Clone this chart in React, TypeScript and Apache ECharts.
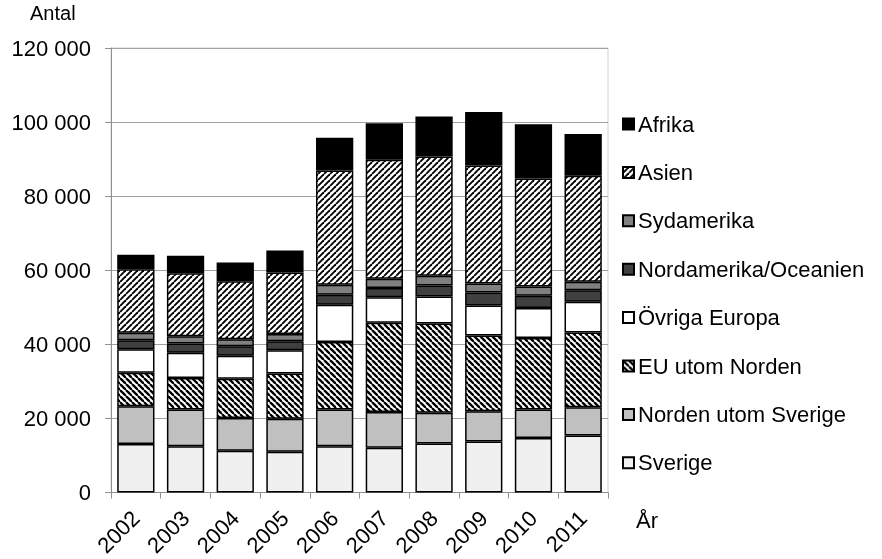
import React, { useEffect, useRef } from "react";
import * as echarts from "echarts";

const years = ["2002", "2003", "2004", "2005", "2006", "2007", "2008", "2009", "2010", "2011"];
const sverige = [13100, 12500, 11300, 11000, 12500, 12100, 13200, 13800, 14700, 15400];
const nordenUtomSverige = [10200, 9900, 8800, 8900, 9900, 9600, 8300, 8100, 7700, 7600];
const euUtomNorden = [9000, 8500, 10600, 12200, 18200, 24100, 24100, 20500, 19300, 20200];
const ovrigaEuropa = [6400, 6800, 6200, 6300, 10100, 6900, 7300, 8100, 8100, 8300];
const nordamerikaOceanien = [2400, 2500, 2600, 2400, 2700, 2500, 3000, 3500, 3300, 3100];
const sydamerika = [2000, 2000, 1900, 2000, 2700, 2500, 2600, 2400, 2500, 2300];
const asien = [17200, 17000, 15600, 16600, 30800, 32100, 32200, 31900, 29200, 28600];
const afrika = [3900, 4700, 5100, 5900, 8900, 9900, 10800, 14400, 14600, 11300];
const yTicks = [0, 20000, 40000, 60000, 80000, 100000, 120000];

const FONT = "'Liberation Sans', Arial, sans-serif";
const FS = 22;

function hatch(dir: number, lw: number) {
  const s = 6;
  const c = document.createElement("canvas");
  c.width = s;
  c.height = s;
  const ctx = c.getContext("2d")!;
  ctx.fillStyle = "#fff";
  ctx.fillRect(0, 0, s, s);
  ctx.strokeStyle = "#000";
  ctx.lineWidth = lw;
  for (let k = -1; k <= 1; k++) {
    ctx.beginPath();
    if (dir > 0) {
      ctx.moveTo(k * s, s);
      ctx.lineTo(k * s + s, 0);
    } else {
      ctx.moveTo(k * s, 0);
      ctx.lineTo(k * s + s, s);
    }
    ctx.stroke();
  }
  return { image: c, repeat: "repeat", imageWidth: s, imageHeight: s } as any;
}

export default function App() {
  const ref = useRef<HTMLDivElement>(null);
  useEffect(() => {
    const chart = echarts.init(ref.current!, null, { renderer: "svg" });
    const fmt = (v: number) => String(v).replace(/\B(?=(\d{3})+(?!\d))/g, " ");
    const seriesDefs: [string, number[], any][] = [
      ["Sverige", sverige, "#f0f0f0"],
      ["Norden utom Sverige", nordenUtomSverige, "#c0c0c0"],
      ["EU utom Norden", euUtomNorden, hatch(-1, 2.3)],
      ["Övriga Europa", ovrigaEuropa, "#ffffff"],
      ["Nordamerika/Oceanien", nordamerikaOceanien, "#404040"],
      ["Sydamerika", sydamerika, "#808080"],
      ["Asien", asien, hatch(1, 1.9)],
      ["Afrika", afrika, "#000000"],
    ];
    chart.setOption({
      animation: false,
      grid: { left: 111, right: 274, top: 48, bottom: 66, show: true, borderColor: "#d0d0d0", borderWidth: 1 },
      legend: {
        orient: "vertical",
        left: 622,
        top: 113,
        padding: 0,
        itemWidth: 11,
        itemHeight: 11,
        itemGap: 26.4,
        icon: "rect",
        data: seriesDefs.map((d) => d[0]).reverse(),
        textStyle: { fontSize: FS, color: "#000", fontFamily: FONT, padding: [0, 0, 0, -1] },
      },
      xAxis: {
        type: "category",
        data: years,
        axisLine: { lineStyle: { color: "#909090", width: 1 } },
        axisTick: { show: true, length: 6, lineStyle: { color: "#909090" } },
        axisLabel: { rotate: 45, fontSize: FS, color: "#000", fontFamily: FONT, margin: 22 },
      },
      yAxis: {
        type: "value",
        min: yTicks[0],
        max: yTicks[yTicks.length - 1],
        interval: 20000,
        axisLine: { show: true, lineStyle: { color: "#909090", width: 1 } },
        axisTick: { show: true, length: 6, lineStyle: { color: "#909090" } },
        splitLine: { lineStyle: { color: "#a0a0a0", width: 1 } },
        axisLabel: { fontSize: FS, color: "#000", fontFamily: FONT, margin: 20, formatter: fmt },
      },
      graphic: [
        { type: "text", left: 30, top: 3, style: { text: "Antal", fontSize: FS - 2, fill: "#000", fontFamily: FONT } },
        { type: "text", left: 636, top: 509, style: { text: "År", fontSize: FS, fill: "#000", fontFamily: FONT } },
      ],
      series: seriesDefs.map(([name, data, color]) => ({
        name,
        type: "bar",
        stack: "total",
        data,
        barCategoryGap: "25%",
        itemStyle: { color, borderColor: "#000", borderWidth: 1.5 },
      })),
    });
    return () => chart.dispose();
  }, []);
  return <div ref={ref} style={{ position: "fixed", left: 0, top: 0, width: 882, height: 559 }} />;
}
